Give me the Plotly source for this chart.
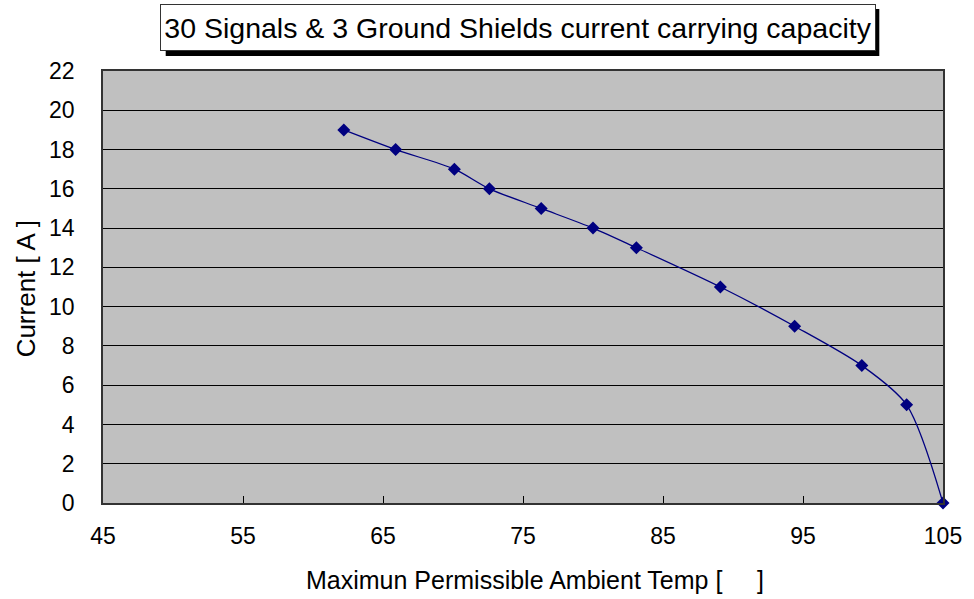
import plotly.graph_objects as go

temps = [62.2, 65.9, 70.1, 72.6, 76.3, 80.0, 83.1, 89.1, 94.4, 99.2, 102.4, 105.0]
currents = [19, 18, 17, 16, 15, 14, 13, 11, 9, 7, 5, 0]
x_ticks = [45, 55, 65, 75, 85, 95, 105]
y_ticks = list(range(0, 23, 2))

title_text = "30 Signals & 3 Ground Shields current carrying capacity"
x_title = "Maximun Permissible Ambient Temp [&nbsp;&nbsp;&nbsp;&nbsp;&nbsp;]"
y_title = "Current [ A ]"

W, H = 974, 599
L, R, T, B = 103, 27, 71, 96
pw, ph = W - L - R, H - T - B


def px(xp):
    return (xp - L) / pw


def py(yp):
    return (H - B - yp) / ph


font = "Liberation Sans, Arial, sans-serif"

fig = go.Figure()
fig.add_trace(go.Scatter(
    x=temps, y=currents, mode="lines+markers",
    line=dict(color="#000080", width=1.3, shape="spline", smoothing=0.8),
    marker=dict(symbol="diamond", size=10, color="#000080"),
    showlegend=False, cliponaxis=False,
))

fig.update_layout(
    width=W, height=H,
    margin=dict(l=L, r=R, t=T, b=B, pad=0),
    paper_bgcolor="white", plot_bgcolor="#C0C0C0",
    font=dict(family=font, size=23, color="black"),
    xaxis=dict(range=[45, 105], tickvals=x_ticks, ticks="inside", ticklen=7,
               tickcolor="black", showgrid=False, zeroline=False,
               showline=True, linecolor="#333333", linewidth=1.5, mirror=True,
               ticklabelstandoff=12, tickfont=dict(size=23)),
    yaxis=dict(range=[0, 22], tickvals=y_ticks, ticks="", showgrid=True,
               gridcolor="black", gridwidth=1, zeroline=False,
               showline=True, linecolor="#333333", linewidth=1.5, mirror=True,
               ticklabelstandoff=22, tickfont=dict(size=23)),
)

# axis titles
fig.add_annotation(text=x_title, xref="paper", yref="paper",
                   x=px(537), y=py(580), xanchor="center", yanchor="middle",
                   showarrow=False, font=dict(family=font, size=25, color="black"))
fig.add_annotation(text=y_title, xref="paper", yref="paper",
                   x=px(26), y=py(289), xanchor="center", yanchor="middle",
                   textangle=-90, showarrow=False,
                   font=dict(family=font, size=26, color="black"))

# title box with shadow
bx0, bx1, by0, by1 = 162, 878, 4, 51
fig.add_shape(type="rect", xref="paper", yref="paper",
              x0=px(bx0 + 4), x1=px(bx1 + 5), y0=py(by1 + 5), y1=py(by0 + 5),
              fillcolor="black", line=dict(width=0), layer="above")
fig.add_annotation(
    text=title_text, xref="paper", yref="paper",
    x=px((bx0 + bx1) / 2), y=py((by0 + by1) / 2),
    xanchor="center", yanchor="middle", showarrow=False,
    font=dict(family=font, size=28.5, color="black"),
    bgcolor="white", bordercolor="#333333", borderwidth=1, borderpad=0,
    width=bx1 - bx0 - 2, height=by1 - by0 - 2,
)

fig.write_html("out.html",
               config={"displayModeBar": False},
               post_script="document.body.style.margin='0';document.body.style.padding='0';")
